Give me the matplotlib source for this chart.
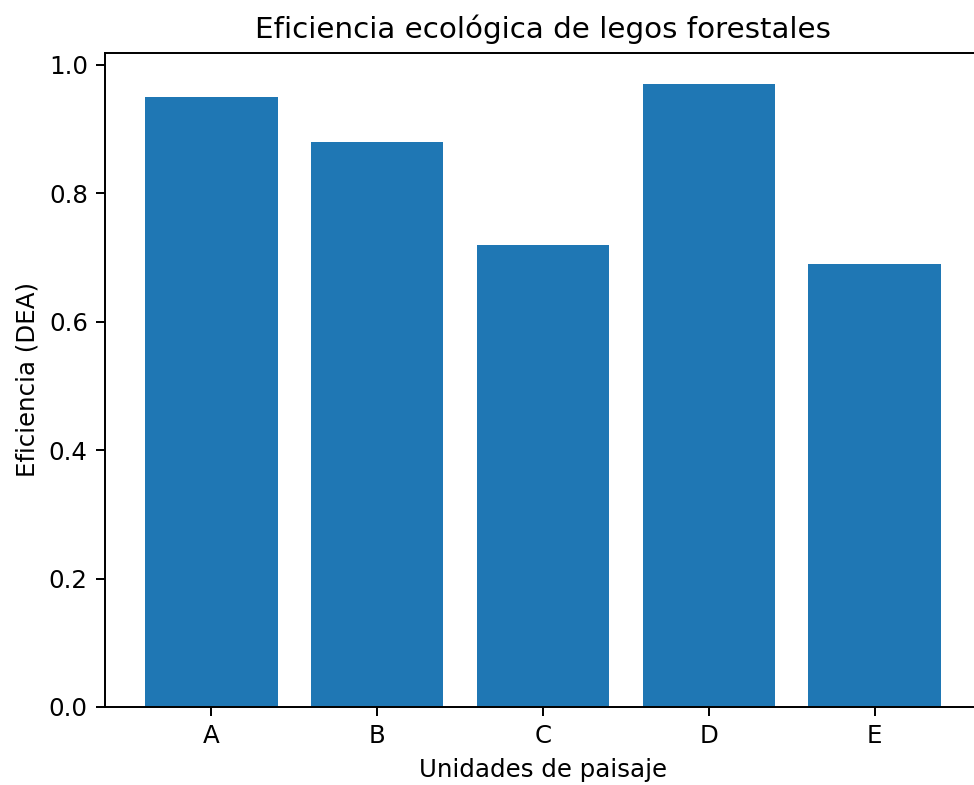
import matplotlib
matplotlib.use("Agg")
import matplotlib.pyplot as plt

unidades = ["A", "B", "C", "D", "E"]
eficiencia = [0.95, 0.88, 0.72, 0.97, 0.69]

k = 1.175
plt.rcParams.update({
    "font.size": 10 * k,
    "axes.titlesize": 12 * k,
    "axes.linewidth": 0.8 * k,
    "xtick.major.width": 0.8 * k,
    "ytick.major.width": 0.8 * k,
    "xtick.major.size": 3.5 * k,
    "ytick.major.size": 3.5 * k,
    "xtick.major.pad": 3.5 * k,
    "ytick.major.pad": 3.5 * k,
    "axes.labelpad": 4 * k,
    "axes.titlepad": 6 * k,
})

fig = plt.figure(figsize=(974 / 150, 785 / 150), dpi=150)
ax = fig.add_axes([0.1078, 0.0994, 0.8994, 0.8331])
ax.bar(unidades, eficiencia, color="#1f77b4")
ax.set_xlabel("Unidades de paisaje")
ax.set_ylabel("Eficiencia (DEA)")
ax.set_title("Eficiencia ecológica de legos forestales")
fig.savefig("out.png", dpi=150)
